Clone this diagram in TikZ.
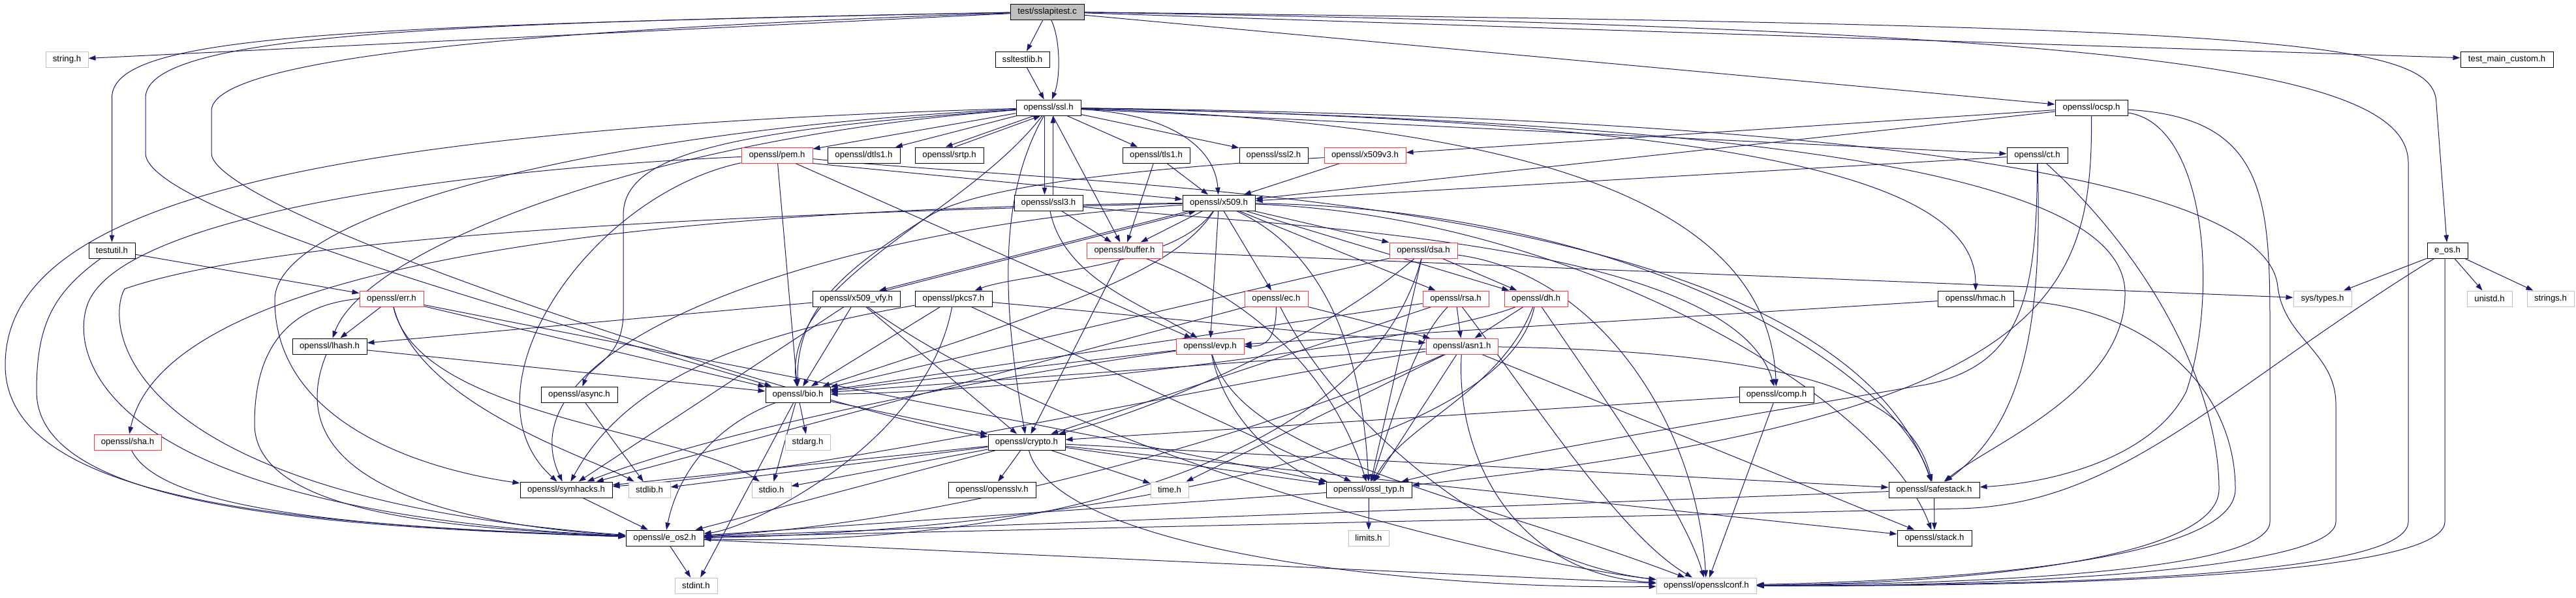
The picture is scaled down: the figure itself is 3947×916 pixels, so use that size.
\documentclass[tikz,border=0pt]{standalone}
\usepackage{fontspec}
\setmainfont{Liberation Sans}
\usetikzlibrary{arrows.meta}
\pgfdeclarelayer{bg}
\pgfsetlayers{bg,main}
\definecolor{edgec}{HTML}{191970}
\definecolor{redc}{HTML}{FF3838}
\definecolor{grayb}{HTML}{C0C0C0}
\definecolor{rootf}{HTML}{BFBFBF}
\begin{document}
\begin{tikzpicture}[x=1pt,y=-1pt,
 hb/.style={draw=black,line width=1pt,fill=white,minimum height=24pt,inner sep=0pt,font=\fontsize{13.2pt}{15pt}\selectfont},
 rb/.style={hb,draw=redc},
 gb/.style={hb,draw=grayb},
 e/.style={draw=edgec,line width=1pt,-{Triangle[length=11pt,width=7.5pt]}}]
\useasboundingbox (0,0) rectangle (3947,916);
% row 1
\node[hb,fill=rootf,minimum width=113pt] (root) at (1604.5,18) {test/sslapitest.c};
% row 2
\node[gb,minimum width=65pt] (string) at (102.5,91) {string.h};
\node[hb,minimum width=83pt] (ssltestlib) at (1566.5,91) {ssltestlib.h};
\node[hb,minimum width=142pt] (tmc) at (3841,91) {test\_main\_custom.h};
% row 3
\node[hb,minimum width=99pt] (ssl) at (1606.5,165) {openssl/ssl.h};
\node[hb,minimum width=111pt] (ocsp) at (3204.5,165) {openssl/ocsp.h};
% row 4
\node[rb,minimum width=109pt] (pem) at (1190.5,238) {openssl/pem.h};
\node[hb,minimum width=111pt] (dtls1) at (1323.5,238) {openssl/dtls1.h};
\node[hb,minimum width=105pt] (srtp) at (1454.5,238) {openssl/srtp.h};
\node[hb,minimum width=103pt] (tls1) at (1771.5,238) {openssl/tls1.h};
\node[hb,minimum width=105pt] (ssl2) at (1951.5,238) {openssl/ssl2.h};
\node[rb,minimum width=125pt] (x509v3) at (2091.5,238) {openssl/x509v3.h};
\node[hb,minimum width=93pt] (ct) at (3121.5,238) {openssl/ct.h};
% row 5
\node[hb,minimum width=105pt] (ssl3) at (1606.5,311) {openssl/ssl3.h};
\node[hb,minimum width=111pt] (x509) at (1867.5,311) {openssl/x509.h};
% row 6
\node[hb,minimum width=71pt] (testutil) at (171.5,384) {testutil.h};
\node[rb,minimum width=116pt] (buffer) at (1723,384) {openssl/buffer.h};
\node[rb,minimum width=104pt] (dsa) at (2181,384) {openssl/dsa.h};
\node[hb,minimum width=62pt] (eos) at (3750,384) {e\_os.h};
% row 7
\node[rb,minimum width=98pt] (err) at (600,458) {openssl/err.h};
\node[hb,minimum width=134pt] (xvfy) at (1312,458) {openssl/x509\_vfy.h};
\node[hb,minimum width=118pt] (pkcs7) at (1461,458) {openssl/pkcs7.h};
\node[rb,minimum width=97pt] (ec) at (1955.5,458) {openssl/ec.h};
\node[rb,minimum width=101pt] (rsa) at (2230.5,458) {openssl/rsa.h};
\node[rb,minimum width=97pt] (dh) at (2353.5,458) {openssl/dh.h};
\node[hb,minimum width=116pt] (hmac) at (3027,458) {openssl/hmac.h};
\node[gb,minimum width=89pt] (systypes) at (3558.5,458) {sys/types.h};
\node[gb,minimum width=69pt] (unistd) at (3814.5,458) {unistd.h};
\node[gb,minimum width=72pt] (strings) at (3908,458) {strings.h};
% row 8
\node[hb,minimum width=114pt] (lhash) at (505,531) {openssl/lhash.h};
\node[rb,minimum width=104pt] (evp) at (1854,531) {openssl/evp.h};
\node[rb,minimum width=110pt] (asn1) at (2240,531) {openssl/asn1.h};
% row 9
\node[hb,minimum width=117pt] (async) at (887.5,605) {openssl/async.h};
\node[hb,minimum width=99pt] (bio) at (1222.5,605) {openssl/bio.h};
\node[hb,minimum width=114pt] (comp) at (2722,605) {openssl/comp.h};
% row 10
\node[rb,minimum width=103pt] (sha) at (195.5,678) {openssl/sha.h};
\node[gb,minimum width=69pt] (stdarg) at (1237.5,678) {stdarg.h};
\node[hb,minimum width=118pt] (crypto) at (1573,678) {openssl/crypto.h};
% row 11
\node[hb,minimum width=141pt] (symhacks) at (867.5,751) {openssl/symhacks.h};
\node[gb,minimum width=64pt] (stdlib) at (995,751) {stdlib.h};
\node[gb,minimum width=60pt] (stdio) at (1182,751) {stdio.h};
\node[hb,minimum width=134pt] (opensslv) at (1520,751) {openssl/opensslv.h};
\node[gb,minimum width=58pt] (time) at (1792,751) {time.h};
\node[hb,minimum width=131pt] (ossltyp) at (2097.5,751) {openssl/ossl\_typ.h};
\node[hb,minimum width=139pt] (safestack) at (2963.5,751) {openssl/safestack.h};
% row 12
\node[hb,minimum width=119pt] (eostwo) at (1018.5,825) {openssl/e\_os2.h};
\node[gb,minimum width=62pt] (limits) at (2097,825) {limits.h};
\node[hb,minimum width=114pt] (stack) at (2964,825) {openssl/stack.h};
% row 13
\node[gb,minimum width=65pt] (stdint) at (1066.5,898) {stdint.h};
\node[gb,minimum width=153pt] (conf) at (2614.5,898) {openssl/opensslconf.h};

\begin{pgfonlayer}{bg}
% root
\draw[e] (root) -- (string);
\draw[e] (root) .. controls (500,40) and (171.5,55) .. (171.5,150) -- (testutil);
\draw[e] (root) .. controls (700,35) and (223,50) .. (223,150) -- (223,235) .. controls (223,330) and (950,520) .. (bio);
\draw[e] (root) .. controls (800,45) and (324,90) .. (324,170) -- (324,235) .. controls (324,330) and (1300,640) .. (crypto);
\draw[e] (root) -- (ssltestlib);
\draw[e] (root) .. controls (1625,60) and (1625,120) .. (ssl);
\draw[e] (root) -- (tmc);
\draw[e] (root) -- (ocsp);
\draw[e] (root) .. controls (3500,40) and (3733,60) .. (3733,160) -- (eos);
\draw[e] (root) .. controls (3300,45) and (3690,110) .. (3690,250) -- (3690,800) .. controls (3690,880) and (3200,898) .. (conf);
% ssltestlib, testutil
\draw[e] (ssltestlib) -- (ssl);
\draw[e] (testutil) -- (err);
\draw[e] (testutil) .. controls (80,450) and (56,500) .. (56,600) .. controls (56,780) and (500,808) .. (eostwo);
% ssl
\draw[e] (ssl) -- (pem);
\draw[e] (ssl) -- (dtls1);
\draw[e] ([xshift=-22pt]ssl.south) -- ([xshift=-6pt]srtp.north);
\draw[e] ([xshift=8pt]srtp.north) -- ([xshift=-12pt]ssl.south);
\draw[e] (ssl) -- (tls1);
\draw[e] (ssl) -- (ssl2);
\draw[e] (ssl) .. controls (1800,175) and (1862,230) .. (x509);
\draw[e] ([xshift=-6pt]ssl.south) -- ([xshift=-6pt]ssl3.north);
\draw[e] ([xshift=7pt]ssl3.north) -- ([xshift=7pt]ssl.south);
\draw[e] (ssl) -- (buffer);
\draw[e] (ssl) .. controls (400,200) and (8,330) .. (8,560) .. controls (8,780) and (500,805) .. (eostwo);
\draw[e] (ssl) .. controls (900,200) and (421,330) .. (421,460) .. controls (421,650) and (650,720) .. (symhacks);
\draw[e] (ssl) .. controls (1000,210) and (560,380) .. (lhash);
\draw[e] (ssl) .. controls (1480,330) and (1200,430) .. (bio);
\draw[e] (ssl) .. controls (1100,200) and (955,240) .. (955,330) -- (955,480) .. controls (955,550) and (905,560) .. (async);
\draw[e] (ssl) .. controls (1530,300) and (1535,460) .. (crypto);
\draw[e] (ssl) .. controls (2400,190) and (2710,330) .. (comp);
\draw[e] (ssl) -- (ct);
\draw[e] (ssl) .. controls (2700,185) and (3027,280) .. (hmac);
\draw[e] (ssl) .. controls (2900,190) and (3256,300) .. (3256,450) .. controls (3256,600) and (3050,680) .. (safestack);
\draw[e] (ssl) .. controls (3200,185) and (3480,330) .. (3490,440) .. controls (3500,520) and (3579,540) .. (3579,620) -- (3579,800) .. controls (3579,880) and (3000,900) .. (conf);
% pem
\draw[e] (pem) .. controls (700,260) and (200,330) .. (137,460) .. controls (107,520) and (107,780) .. (eostwo);
\draw[e] (pem) -- (bio);
\draw[e] (pem) -- (evp);
\draw[e] (pem.south east) -- (x509);
\draw[e] (pem) .. controls (1700,290) and (2800,290) .. (safestack);
\draw[e] (pem) .. controls (900,300) and (700,600) .. (symhacks);
% tls1, ssl3
\draw[e] (tls1) -- (buffer);
\draw[e] (tls1) -- (x509);
\draw[e] (ssl3) -- (buffer);
\draw[e] (ssl3) .. controls (1630,430) and (1760,470) .. (evp);
\draw[e] (ssl3) .. controls (1900,345) and (2650,360) .. (comp);
% x509v3
\draw[e] (x509v3) -- (x509);
\draw[e] (x509v3) .. controls (1800,255) and (1500,280) .. (1421,333) .. controls (1300,410) and (1220,470) .. (bio);
% ocsp
\draw[e] (ocsp) -- (x509v3);
\draw[e] (ocsp) -- (x509);
\draw[e] (ocsp) .. controls (3206,450) and (3150,640) .. (ossltyp);
\draw[e] (ocsp) .. controls (3380,190) and (3400,450) .. (3350,600) .. controls (3300,700) and (3150,740) .. (safestack);
\draw[e] (ocsp) .. controls (3470,180) and (3478,300) .. (3478,500) -- (3478,800) .. controls (3478,870) and (3100,895) .. (conf);
% ct
\draw[e] (ct) -- (x509);
\draw[e] (ct) .. controls (3121,450) and (3100,560) .. (2950,590) .. controls (2600,650) and (2300,700) .. (ossltyp);
\draw[e] (ct) .. controls (3130,500) and (3100,650) .. (safestack);
\draw[e] (ct) .. controls (3300,400) and (3400,600) .. (3400,750) .. controls (3400,860) and (3000,895) .. (conf);
% hmac
\draw[e] (hmac) -- (evp);
\draw[e] (hmac) .. controls (3300,470) and (3425,600) .. (3425,750) .. controls (3425,860) and (3000,890) .. (conf);
% x509
\draw[e] (x509) -- (buffer);
\draw[e] (x509) -- (evp);
\draw[e] (x509) -- (ec);
\draw[e] (x509) -- (dsa);
\draw[e] (x509) -- (rsa);
\draw[e] (x509) -- (dh);
\draw[e] (x509) .. controls (1800,410) and (1560,420) .. (pkcs7);
\draw[e] ([xshift=-45pt]x509.south) -- ([xshift=35pt]xvfy.north);
\draw[e] ([xshift=45pt]xvfy.north) -- ([xshift=-35pt]x509.south);
\draw[e] (x509) .. controls (1800,420) and (1600,480) .. (bio);
\draw[e] (x509) .. controls (2060,400) and (2090,600) .. (ossltyp);
\draw[e] (x509) .. controls (2400,330) and (2880,600) .. (stack);
\draw[e] (x509) .. controls (2500,320) and (2900,560) .. (safestack);
\draw[e] (x509) .. controls (1000,330) and (400,370) .. (191,443) .. controls (163,490) and (163,760) .. (eostwo);
\draw[e] (x509) .. controls (1300,345) and (760,520) .. (symhacks);
\draw[e] (x509) .. controls (900,320) and (250,420) .. (sha);
% x509_vfy
\draw[e] (xvfy) -- (lhash);
\draw[e] (xvfy) -- (bio);
\draw[e] (xvfy) -- (crypto);
\draw[e] (xvfy) -- (symhacks);
\draw[e] (xvfy) .. controls (1650,700) and (2300,860) .. (conf);
% pkcs7
\draw[e] (pkcs7) -- (asn1);
\draw[e] (pkcs7) -- (bio);
\draw[e] (pkcs7) .. controls (1420,680) and (1150,810) .. (eostwo);
\draw[e] (pkcs7) .. controls (1100,520) and (950,600) .. (symhacks);
\draw[e] (pkcs7) -- (ossltyp);
% ec
\draw[e] (ec) -- (asn1);
\draw[e] (ec) -- (symhacks);
\draw[e] (ec.south) .. controls (1955,520) and (1940,531) .. (evp.east);
\draw[e] (ec) .. controls (2050,650) and (2300,860) .. (conf);
% dsa
\draw[e] (dsa) -- (dh);
\draw[e] (dsa) -- (bio);
\draw[e] (dsa) .. controls (2050,500) and (1800,620) .. (crypto);
\draw[e] (dsa) .. controls (2100,700) and (1600,840) .. (eostwo);
\draw[e] (dsa) -- (ossltyp);
\draw[e] (dsa) .. controls (2450,420) and (2600,650) .. (conf);
% rsa
\draw[e] (rsa) -- (asn1);
\draw[e] (rsa) -- (bio);
\draw[e] (rsa) -- (crypto);
\draw[e] (rsa) .. controls (2170,520) and (2140,620) .. (ossltyp);
\draw[e] (rsa) .. controls (2340,600) and (2480,820) .. (conf);
% dh
\draw[e] (dh) -- (asn1);
\draw[e] (dh) .. controls (2200,520) and (1600,600) .. (bio);
\draw[e] (dh) .. controls (2300,720) and (1500,820) .. (eostwo);
\draw[e] (dh) .. controls (2300,600) and (2150,650) .. (ossltyp);
\draw[e] (dh) .. controls (2450,600) and (2580,780) .. (conf);
% sha
\draw[e] (sha) .. controls (250,790) and (600,810) .. (eostwo);
% evp
\draw[e] (evp) -- (bio);
\draw[e] (evp) .. controls (1500,580) and (1100,660) .. (symhacks);
\draw[e] (evp) .. controls (1880,660) and (1990,730) .. (ossltyp);
\draw[e] (evp) .. controls (1900,700) and (2250,760) .. (conf);
% asn1
\draw[e] (asn1) -- (bio);
\draw[e] (asn1) -- (time);
\draw[e] (asn1) .. controls (2000,640) and (1500,800) .. (eostwo);
\draw[e] (asn1) .. controls (1900,580) and (1300,720) .. (symhacks);
\draw[e] (asn1) -- (ossltyp);
\draw[e] (asn1) .. controls (2230,700) and (2320,880) .. (conf);
\draw[e] (asn1) -- (stack);
\draw[e] (asn1) .. controls (2800,540) and (2930,620) .. (safestack);
% lhash
\draw[e] (lhash) -- (bio);
\draw[e] (lhash) .. controls (420,740) and (700,805) .. (eostwo);
% err
\draw[e] (err) -- (lhash);
\draw[e] (err.west) .. controls (420,470) and (390,560) .. (390,650) .. controls (390,790) and (700,810) .. (eostwo);
\draw[e] (err) .. controls (640,620) and (900,700) .. (stdlib);
\draw[e] (err) .. controls (640,640) and (1050,660) .. (stdio);
\draw[e] (err) -- (bio);
\draw[e] (err) -- (ossltyp);
% bio
\draw[e] (bio) .. controls (1100,650) and (1040,720) .. (eostwo);
\draw[e] (bio) -- (stdio);
\draw[e] (bio) -- (stdarg);
\draw[e] (bio) -- (crypto);
\draw[e] (bio) -- (stdint);
% async
\draw[e] (async) -- (stdlib);
% crypto
\draw[e] (crypto) -- (stdlib);
\draw[e] (crypto) -- (stdio);
\draw[e] (crypto) -- (symhacks);
\draw[e] (crypto) -- (eostwo);
\draw[e] (crypto) -- (opensslv);
\draw[e] (crypto) -- (time);
\draw[e] (crypto) -- (ossltyp);
\draw[e] (crypto) -- (safestack);
\draw[e] (crypto) -- (stack);
\draw[e] (crypto) .. controls (1620,850) and (2200,905) .. (conf);
% comp
\draw[e] (comp) -- (crypto);
\draw[e] (comp) -- (conf);
% buffer
\draw[e] (buffer) -- (crypto);
\draw[e] (buffer) .. controls (1950,470) and (2050,600) .. (ossltyp);
\draw[e] (buffer) -- (systypes);
% low level
\draw[e] (safestack) -- (stack);
\draw[e] (safestack) -- (eostwo);
\draw[e] (ossltyp) -- (eostwo);
\draw[e] (ossltyp) -- (limits);
\draw[e] (symhacks) -- (eostwo);
\draw[e] (eostwo) -- (conf);
\draw[e] (eostwo) -- (stdint);
% e_os
\draw[e] (eos) -- (systypes);
\draw[e] (eos) -- (unistd);
\draw[e] (eos) -- (strings);
\draw[e] (eos) .. controls (3400,600) and (3250,775) .. (3000,780) -- (eostwo);
\draw[e] ([xshift=-4pt]eos.south) -- (3746,800) .. controls (3746,880) and (3200,900) .. (conf);
\end{pgfonlayer}
\end{tikzpicture}
\end{document}
